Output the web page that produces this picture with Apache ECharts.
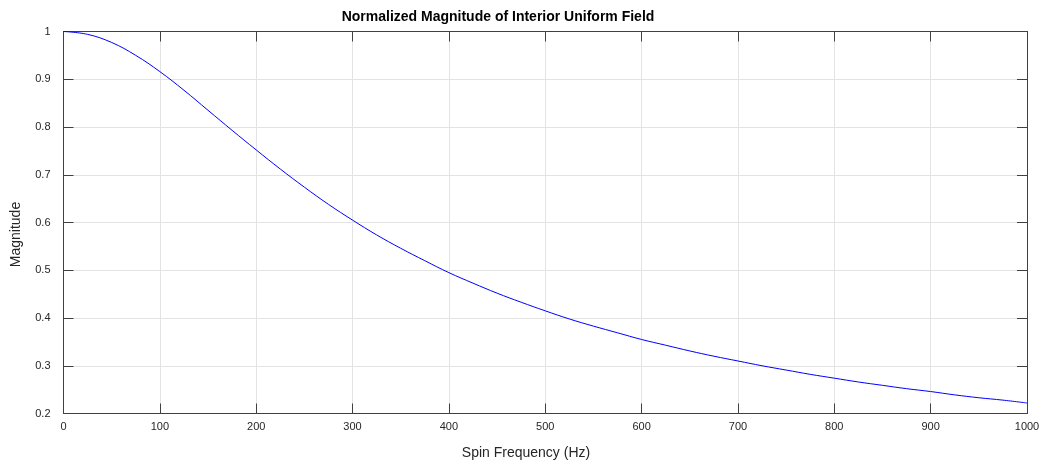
<!DOCTYPE html>
<html>
<head>
<meta charset="utf-8">
<script src="https://cdn.jsdelivr.net/npm/echarts@6/dist/echarts.min.js"></script>
<style>
  html, body { margin: 0; padding: 0; background: #fff; }
  #chart { width: 1045px; height: 468px; }
</style>
</head>
<body>
<div id="chart"></div>
<script>
// Spin frequency samples (Hz)
const frequency = [
  0, 25, 50, 75, 100, 125, 150, 175, 200, 225,
  250, 275, 300, 325, 350, 375, 400, 425, 450, 475,
  500, 525, 550, 575, 600, 625, 650, 675, 700, 725,
  750, 775, 800, 825, 850, 875, 900, 925, 950, 975, 1000
];
// Normalized field magnitude at each frequency
const magnitude = [
  1.000, 0.994, 0.977, 0.950, 0.916, 0.877, 0.835, 0.793, 0.752, 0.712,
  0.674, 0.638, 0.605, 0.574, 0.546, 0.520, 0.495, 0.473, 0.452, 0.433,
  0.415, 0.398, 0.383, 0.369, 0.355, 0.343, 0.331, 0.320, 0.310, 0.300,
  0.291, 0.282, 0.274, 0.266, 0.259, 0.252, 0.246, 0.239, 0.233, 0.228, 0.222
];
const titleText = 'Normalized Magnitude of Interior Uniform Field';
const xName = 'Spin Frequency (Hz)';
const yName = 'Magnitude';

const axisColor = '#404040';
const labelColor = '#262626';
const gridColor = '#e3e3e3';
const font = 'Liberation Sans, Arial, Helvetica, sans-serif';

const points = frequency.map((f, i) => [f, magnitude[i]]);

const baseX = {
  type: 'value', min: 0, max: 1000, interval: 100,
  axisLine: { show: true, onZero: false, lineStyle: { color: axisColor, width: 1 } },
  axisTick: { show: true, inside: true, length: 10, lineStyle: { color: axisColor } }
};
const baseY = {
  type: 'value', min: 0.2, max: 1, interval: 0.1,
  axisLine: { show: true, onZero: false, lineStyle: { color: axisColor, width: 1 } },
  axisTick: { show: true, inside: true, length: 10, lineStyle: { color: axisColor } }
};

const chart = echarts.init(document.getElementById('chart'), null, { renderer: 'canvas' });
chart.setOption({
  animation: false,
  backgroundColor: '#ffffff',
  title: {
    text: titleText,
    left: 493, top: 5, textAlign: 'center',
    textStyle: { fontFamily: font, fontSize: 14, fontWeight: 'bold', color: '#000' }
  },
  grid: { left: 63.5, right: 18, top: 31.5, bottom: 54.5, containLabel: false },
  xAxis: [
    Object.assign({}, baseX, {
      position: 'bottom',
      axisLabel: {
        margin: 8, fontFamily: font, fontSize: 11, color: labelColor,
        formatter: v => String(v)
      },
      splitLine: { show: true, lineStyle: { color: gridColor, width: 1 } }
    }),
    Object.assign({}, baseX, {
      position: 'top', gridIndex: 0,
      axisLabel: { show: false }, splitLine: { show: false }
    })
  ],
  yAxis: [
    Object.assign({}, baseY, {
      position: 'left',
      axisLabel: { margin: 13, fontFamily: font, fontSize: 11, color: labelColor },
      splitLine: { show: true, lineStyle: { color: gridColor, width: 1 } }
    }),
    Object.assign({}, baseY, {
      position: 'right', gridIndex: 0,
      axisLabel: { show: false }, splitLine: { show: false }
    })
  ],
  // Axis titles
  graphic: [
    {
      type: 'text', x: 526, y: 453,
      style: {
        text: xName, fontFamily: font, fontSize: 14, fill: labelColor,
        align: 'center', verticalAlign: 'middle'
      }
    },
    {
      type: 'text', x: 16.5, y: 234.5, rotation: Math.PI / 2,
      style: {
        text: yName, fontFamily: font, fontSize: 14, fill: labelColor,
        align: 'center', verticalAlign: 'middle'
      }
    }
  ],
  series: [{
    type: 'line',
    data: points,
    xAxisIndex: 0, yAxisIndex: 0,
    smooth: 0.4,
    showSymbol: false,
    lineStyle: { color: '#0000ff', width: 1 },
    z: 5
  }]
});
</script>
</body>
</html>
